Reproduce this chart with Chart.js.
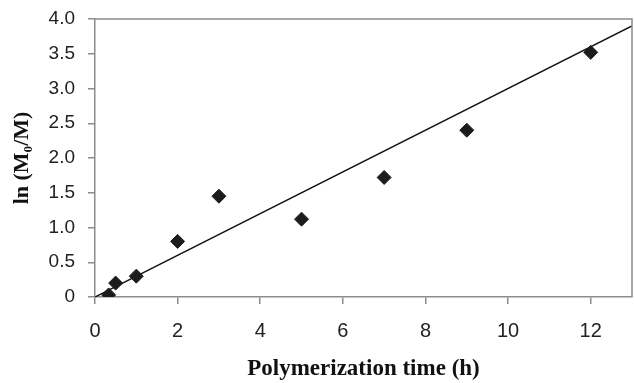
<!DOCTYPE html>
<html>
<head>
<meta charset="utf-8">
<script src="https://cdn.jsdelivr.net/npm/chart.js@4/dist/chart.umd.min.js"></script>
<style>
  html, body { margin: 0; padding: 0; background: #fff; overflow: hidden; }
  canvas { display: block; }
</style>
</head>
<body>
<canvas id="kineticsChart" width="634" height="383"></canvas>
<script>
// polymerization time (h) and ln(M0/M)
var times = [0.33, 0.5, 1, 2, 3, 5, 7, 9, 12];
var lnValues = [0.03, 0.2, 0.3, 0.8, 1.45, 1.12, 1.72, 2.4, 3.52];
// linear fit drawn through the origin
var fitX = [0, 13];
var fitY = [0, 3.9];
var xTicks = [0, 2, 4, 6, 8, 10, 12];
var yTicks = [0, 0.5, 1.0, 1.5, 2.0, 2.5, 3.0, 3.5, 4.0];

var axisGrey = '#8c8c8c';

// draws the grey frame around the plot area
var frame = {
    id: 'frame',
    afterDraw: function(chart) {
        var a = chart.chartArea;
        var ctx = chart.ctx;
        ctx.save();
        ctx.strokeStyle = axisGrey;
        ctx.lineWidth = 1.5;
        ctx.beginPath();
        ctx.moveTo(a.left, a.top);
        ctx.lineTo(a.right, a.top);
        ctx.lineTo(a.right, a.bottom);
        ctx.stroke();
        ctx.restore();
    }
};

var ctx = document.getElementById('kineticsChart').getContext('2d');

new Chart(ctx, {
    type: 'scatter',
    data: {
        datasets: [{
            label: 'data',
            data: times.map(function(t, i) { return { x: t, y: lnValues[i] }; }),
            pointStyle: 'rectRot',
            pointRadius: 7,
            backgroundColor: '#1c1c1c',
            borderColor: '#1c1c1c',
            borderWidth: 1,
            order: 1
        }, {
            label: 'fit',
            type: 'line',
            data: fitX.map(function(x, i) { return { x: x, y: fitY[i] }; }),
            borderColor: '#111',
            borderWidth: 1.5,
            pointRadius: 0,
            fill: false,
            order: 2
        }]
    },
    plugins: [frame],
    options: {
        responsive: false,
        animation: false,
        // autoPadding reserved room for the markers and pulled the right edge in
        layout: { autoPadding: false, padding: { top: 19, right: 2, left: 0, bottom: 0 } },
        plugins: {
            legend: { display: false },
            tooltip: { enabled: false }
        },
        scales: {
            x: {
                type: 'linear',
                min: 0,
                max: 13,
                afterBuildTicks: function(axis) {
                    axis.ticks = xTicks.map(function(v) { return { value: v }; });
                },
                afterFit: function(axis) {
                    axis.height = 86;
                    axis.paddingLeft = 0;
                    axis.paddingRight = 0;
                },
                border: { color: axisGrey, width: 1.5 },
                grid: { drawOnChartArea: false, drawTicks: true, tickLength: 7, color: axisGrey, lineWidth: 1.5 },
                ticks: {
                    color: '#222',
                    padding: 15,
                    maxRotation: 0,
                    font: { family: 'Liberation Sans', size: 20 }
                },
                title: {
                    display: true,
                    text: 'Polymerization time (h)',
                    color: '#111',
                    padding: { top: 0, bottom: 0 },
                    font: { family: 'Liberation Serif', size: 23, weight: 'bold' }
                }
            },
            y: {
                min: 0,
                max: 4,
                afterBuildTicks: function(axis) {
                    axis.ticks = yTicks.map(function(v) { return { value: v }; });
                },
                afterFit: function(axis) {
                    axis.width = 95;
                    axis.paddingTop = 0;
                    axis.paddingBottom = 0;
                },
                border: { color: axisGrey, width: 1.5 },
                grid: { drawOnChartArea: false, drawTicks: true, tickLength: 7, color: axisGrey, lineWidth: 1.5 },
                ticks: {
                    color: '#222',
                    padding: 13,
                    font: { family: 'Liberation Sans', size: 19 },
                    callback: function(v) { return v === 0 ? '0' : v.toFixed(1); }
                },
                title: {
                    display: true,
                    text: 'ln (M\u2080/M)',
                    color: '#111',
                    padding: { top: 9, bottom: 0 },
                    font: { family: 'Liberation Serif', size: 22, weight: 'bold' }
                }
            }
        }
    }
});
</script>
</body>
</html>
